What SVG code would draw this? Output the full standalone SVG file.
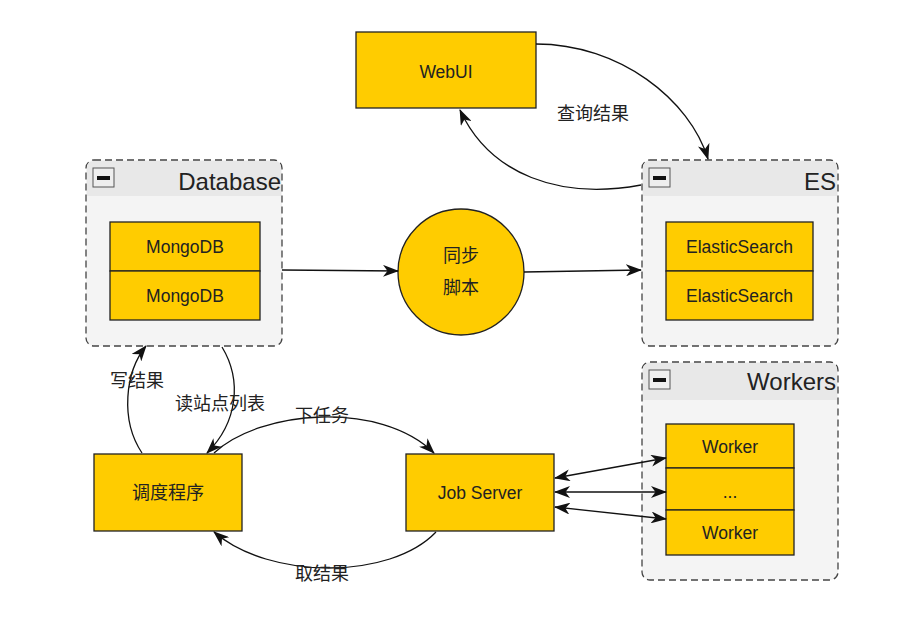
<svg xmlns="http://www.w3.org/2000/svg" width="899" height="618" viewBox="0 0 899 618">
<defs>
<marker id="ah" viewBox="0 0 16 12" refX="15" refY="6" markerWidth="16" markerHeight="12" orient="auto-start-reverse" markerUnits="userSpaceOnUse">
<path d="M0,0 L16,6 L0,12 L4.5,6 z" fill="#111"/>
</marker>
</defs>
<style>
.box{fill:#ffcc00;stroke:#222;stroke-width:1.3}
.cont{fill:#f4f4f4;stroke:#444;stroke-width:1.3;stroke-dasharray:7 4}
.hdr{fill:#e8e8e8}
.mini{fill:#eeeeee;stroke:#555;stroke-width:1}
.t{font-family:"Liberation Sans","Noto Sans CJK SC",sans-serif;font-size:17.5px;fill:#222;text-anchor:middle}
.ct{font-family:"Liberation Sans","Noto Sans CJK SC",sans-serif;font-size:24px;fill:#222;text-anchor:end}
.lbl{font-family:"Noto Sans CJK SC",sans-serif;font-size:18px;fill:#222;text-anchor:middle}
.c{fill:none;stroke:#111;stroke-width:1.3}
</style>
<rect width="899" height="618" fill="#ffffff"/>

<g id="webui">
<rect class="box" x="356" y="32" width="180" height="76"/>
<text class="t" x="446" y="78">WebUI</text>
</g>

<g id="database">
<rect class="cont" x="86" y="160" width="196" height="186" rx="8"/>
<path class="hdr" d="M87,196 L87,168 Q87,161 94,161 L274,161 Q281,161 281,168 L281,196 z"/>
<rect class="mini" x="93" y="168" width="21" height="19"/>
<rect x="97" y="176" width="13" height="4" fill="#111"/>
<text class="ct" x="281" y="190">Database</text>
<rect class="box" x="110" y="222" width="150" height="49"/>
<text class="t" x="185" y="253">MongoDB</text>
<rect class="box" x="110" y="271" width="150" height="49"/>
<text class="t" x="185" y="302">MongoDB</text>
</g>

<g id="es">
<rect class="cont" x="642" y="160" width="196" height="186" rx="8"/>
<path class="hdr" d="M643,196 L643,168 Q643,161 650,161 L830,161 Q837,161 837,168 L837,196 z"/>
<rect class="mini" x="649" y="168" width="21" height="19"/>
<rect x="653" y="176" width="13" height="4" fill="#111"/>
<text class="ct" x="836" y="190">ES</text>
<rect class="box" x="666" y="222" width="147" height="49"/>
<text class="t" x="739.500" y="253">ElasticSearch</text>
<rect class="box" x="666" y="271" width="147" height="49"/>
<text class="t" x="739.500" y="302">ElasticSearch</text>
</g>

<g id="sync">
<circle class="box" cx="461" cy="272" r="63"/>
<text class="lbl" x="461" y="262">同步</text>
<text class="lbl" x="461" y="294">脚本</text>
</g>

<g id="workers">
<rect class="cont" x="642" y="362" width="196" height="218" rx="8"/>
<path class="hdr" d="M643,400 L643,370 Q643,363 650,363 L830,363 Q837,363 837,370 L837,400 z"/>
<rect class="mini" x="649" y="370" width="21" height="19"/>
<rect x="653" y="378" width="13" height="4" fill="#111"/>
<text class="ct" x="836" y="390">Workers</text>
<rect class="box" x="666" y="424" width="128" height="44"/>
<text class="t" x="730" y="453">Worker</text>
<rect class="box" x="666" y="468" width="128" height="42"/>
<text class="t" x="730" y="498">...</text>
<rect class="box" x="666" y="510" width="128" height="45"/>
<text class="t" x="730" y="539">Worker</text>
</g>

<g id="scheduler">
<rect class="box" x="94" y="454" width="148" height="77"/>
<text class="lbl" x="168" y="499">调度程序</text>
</g>

<g id="jobserver">
<rect class="box" x="406" y="454" width="148" height="77"/>
<text class="t" x="480" y="499">Job Server</text>
</g>

<g id="connectors">
<path class="c" d="M536,44 C620,44 690,100 708,159" marker-end="url(#ah)"/>
<path class="c" d="M641,185 C560,200 490,175 460,110" marker-end="url(#ah)"/>
<path class="c" d="M282,270 L398,271" marker-end="url(#ah)"/>
<path class="c" d="M524,272 L641,270" marker-end="url(#ah)"/>
<path class="c" d="M142,453 C120,420 125,372 146,346" marker-end="url(#ah)"/>
<path class="c" d="M222,347 C242,380 238,422 207,453" marker-end="url(#ah)"/>
<path class="c" d="M214,453 C260,410 380,400 434,453" marker-end="url(#ah)"/>
<path class="c" d="M436,532 C390,580 270,580 214,532" marker-end="url(#ah)"/>
<path class="c" d="M555,478 L666,458" marker-start="url(#ah)" marker-end="url(#ah)"/>
<path class="c" d="M555,492 L666,492" marker-start="url(#ah)" marker-end="url(#ah)"/>
<path class="c" d="M555,507 L666,519" marker-start="url(#ah)" marker-end="url(#ah)"/>
<text class="lbl" x="593" y="120">查询结果</text>
<text class="lbl" x="137" y="387">写结果</text>
<text class="lbl" x="220" y="410">读站点列表</text>
<text class="lbl" x="322" y="422">下任务</text>
<text class="lbl" x="322" y="580">取结果</text>
</g>
</svg>
